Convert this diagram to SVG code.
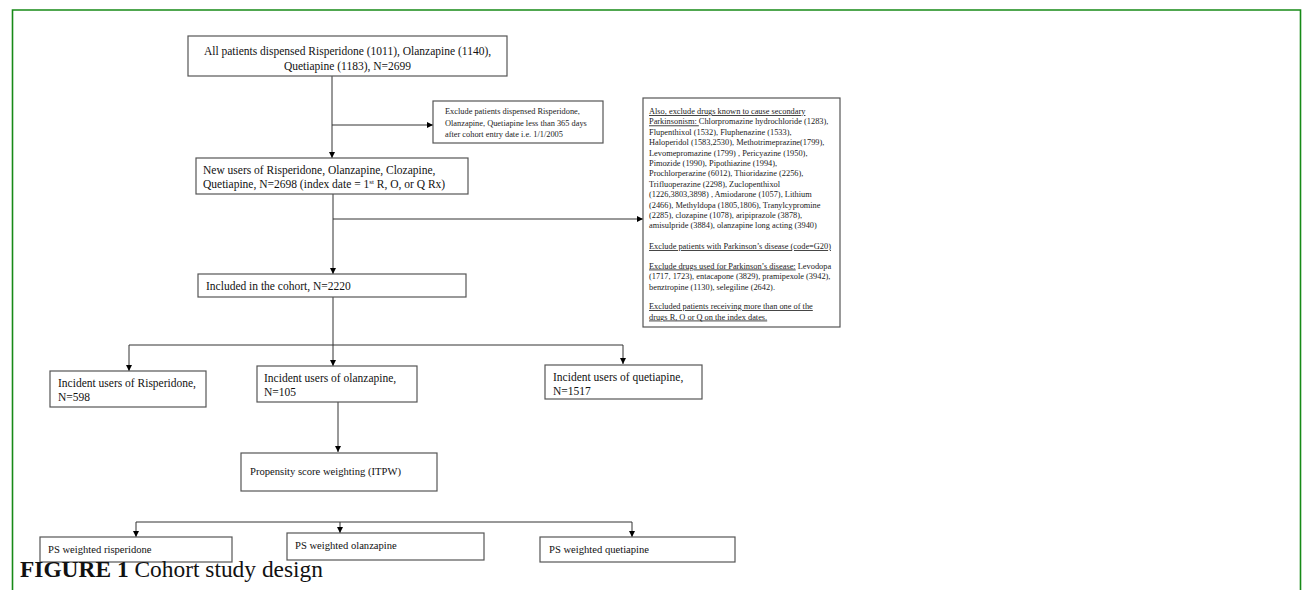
<svg xmlns="http://www.w3.org/2000/svg" width="1302" height="590" viewBox="0 0 1302 590">
<defs>
<marker id="ah" viewBox="0 0 10 10" refX="10" refY="5" markerWidth="6" markerHeight="6" markerUnits="userSpaceOnUse" orient="auto">
<path d="M0,0 L10,5 L0,10 z" fill="#000"/>
</marker>
<style>
.box{fill:#fff;stroke:#555;stroke-width:1.2}
.t{font-family:"Liberation Serif","Times New Roman",serif;font-size:11.5px;fill:#111}
.p{font-family:"Liberation Serif","Times New Roman",serif;font-size:10.6px;fill:#111}
.s{font-family:"Liberation Serif","Times New Roman",serif;font-size:8.35px;fill:#222}
.u{text-decoration:underline}
.ln{fill:none;stroke:#333;stroke-width:1}
.cap{font-family:"Liberation Serif","Times New Roman",serif;font-size:23px;fill:#111}
</style>
</defs>
<rect x="0" y="0" width="1302" height="590" fill="#fff"/>
<path d="M12.5,600 L12.5,10 L1300.5,10 L1300.5,600" fill="none" stroke="#178a17" stroke-width="1.6"/>

<g id="connectors">
<line class="ln" x1="332" y1="76" x2="332" y2="158" marker-end="url(#ah)"/>
<line class="ln" x1="332" y1="125" x2="433" y2="125" marker-end="url(#ah)"/>
<line class="ln" x1="333" y1="194" x2="333" y2="274" marker-end="url(#ah)"/>
<line class="ln" x1="333" y1="219" x2="643" y2="219" marker-end="url(#ah)"/>
<line class="ln" x1="333" y1="297" x2="333" y2="366" marker-end="url(#ah)"/>
<polyline class="ln" points="129,345 623,345 623,364" marker-end="url(#ah)"/>
<line class="ln" x1="129" y1="345" x2="129" y2="371" marker-end="url(#ah)"/>
<line class="ln" x1="338" y1="402" x2="338" y2="452" marker-end="url(#ah)"/>
<polyline class="ln" points="136,522 632,522"/>
<line class="ln" x1="136" y1="522" x2="136" y2="537" marker-end="url(#ah)"/>
<line class="ln" x1="340" y1="522" x2="340" y2="533" marker-end="url(#ah)"/>
<line class="ln" x1="632" y1="522" x2="632" y2="537" marker-end="url(#ah)"/>
</g>

<g id="n-all">
<rect class="box" x="188" y="36" width="319" height="40"/>
<text class="t" x="347.5" y="55" text-anchor="middle">All patients dispensed Risperidone (1011), Olanzapine (1140),</text>
<text class="t" x="347.5" y="70" text-anchor="middle">Quetiapine (1183), N=2699</text>
</g>

<g id="n-exclude365">
<rect class="box" x="433" y="101" width="170" height="42"/>
<text class="s" x="445" y="114">Exclude patients dispensed Risperidone,</text>
<text class="s" x="445" y="125.5">Olanzapine, Quetiapine less than 365 days</text>
<text class="s" x="445" y="137">after cohort entry date i.e. 1/1/2005</text>
</g>

<g id="n-newusers">
<rect class="box" x="196" y="158" width="272" height="36"/>
<text class="t" x="203" y="174">New users of Risperidone, Olanzapine, Clozapine,</text>
<text class="t" x="203" y="188">Quetiapine, N=2698 (index date = 1<tspan font-size="7" dy="-4">st</tspan><tspan dy="4"> R, O, or Q Rx)</tspan></text>
</g>

<g id="n-exclusions">
<rect class="box" x="643" y="98" width="197" height="229"/>
<text class="s u" x="649" y="114">Also, exclude drugs known to cause secondary</text>
<text class="s" x="649" y="124.4"><tspan class="u">Parkinsonism: </tspan>Chlorpromazine hydrochloride (1283),</text>
<text class="s" x="649" y="134.8">Flupenthixol (1532), Fluphenazine (1533),</text>
<text class="s" x="649" y="145.2">Haloperidol (1583,2530), Methotrimeprazine(1799),</text>
<text class="s" x="649" y="155.6">Levomepromazine (1799) , Pericyazine (1950),</text>
<text class="s" x="649" y="166">Pimozide (1990), Pipothiazine (1994),</text>
<text class="s" x="649" y="176.4">Prochlorperazine (6012), Thioridazine (2256),</text>
<text class="s" x="649" y="186.8">Trifluoperazine (2298), Zuclopenthixol</text>
<text class="s" x="649" y="197.2">(1226,3803,3898) , Amiodarone (1057), Lithium</text>
<text class="s" x="649" y="207.6">(2466), Methyldopa (1805,1806), Tranylcypromine</text>
<text class="s" x="649" y="218">(2285), clozapine (1078), aripiprazole (3878),</text>
<text class="s" x="649" y="228.4">amisulpride (3884), olanzapine long acting (3940)</text>
<text class="s u" x="649" y="249">Exclude patients with Parkinson’s disease (code=G20)</text>
<text class="s" x="649" y="268.5"><tspan class="u">Exclude drugs used for Parkinson’s disease:</tspan> Levodopa</text>
<text class="s" x="649" y="279">(1717, 1723), entacapone (3829), pramipexole (3942),</text>
<text class="s" x="649" y="289.5">benztropine (1130), selegiline (2642).</text>
<text class="s u" x="649" y="309">Excluded patients receiving more than one of the</text>
<text class="s u" x="649" y="319.5">drugs R, O or Q on the index dates.</text>
</g>

<g id="n-included">
<rect class="box" x="198" y="274" width="268" height="23"/>
<text class="t" x="206" y="289.5">Included in the cohort, N=2220</text>
</g>

<g id="n-risperidone">
<rect class="box" x="50" y="371" width="156" height="36"/>
<text class="t" x="58" y="387">Incident users of Risperidone,</text>
<text class="t" x="58" y="401">N=598</text>
</g>

<g id="n-olanzapine">
<rect class="box" x="257" y="366" width="160" height="36"/>
<text class="t" x="264" y="382">Incident users of olanzapine,</text>
<text class="t" x="264" y="396">N=105</text>
</g>

<g id="n-quetiapine">
<rect class="box" x="545" y="365" width="157" height="34"/>
<text class="t" x="553" y="381">Incident users of quetiapine,</text>
<text class="t" x="553" y="395">N=1517</text>
</g>

<g id="n-propensity">
<rect class="box" x="241" y="453" width="196" height="38"/>
<text class="p" x="250" y="475">Propensity score weighting (ITPW)</text>
</g>

<g id="n-ps-ris">
<rect class="box" x="40" y="537" width="192" height="25"/>
<text class="p" x="48" y="553">PS weighted risperidone</text>
</g>

<g id="n-ps-olz">
<rect class="box" x="287" y="533" width="197" height="27"/>
<text class="p" x="295" y="549">PS weighted olanzapine</text>
</g>

<g id="n-ps-que">
<rect class="box" x="540" y="537" width="195" height="25"/>
<text class="p" x="549" y="553">PS weighted quetiapine</text>
</g>

<g id="caption">
<text class="cap" x="20" y="577" textLength="303" lengthAdjust="spacingAndGlyphs"><tspan font-weight="bold">FIGURE 1</tspan> Cohort study design</text>
</g>
</svg>
